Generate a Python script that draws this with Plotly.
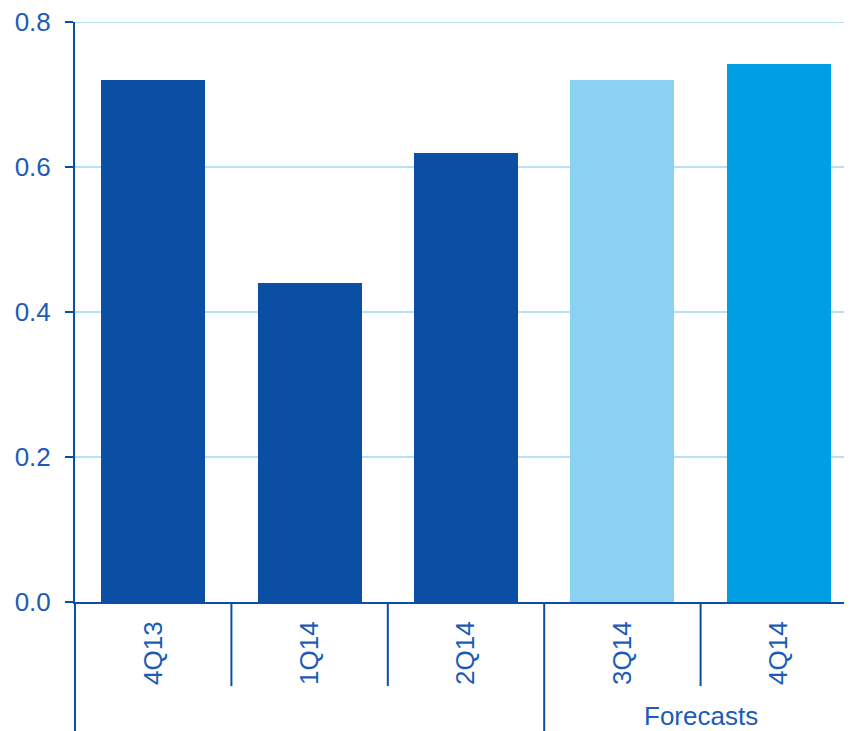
import plotly.graph_objects as go

categories = ["4Q13", "1Q14", "2Q14", "3Q14", "4Q14"]
values = [0.72, 0.44, 0.62, 0.72, 0.742]
bar_colors = ["#0A4FA3", "#0A4FA3", "#0A4FA3", "#8BD2F2", "#009FE3"]
y_ticks = [0.0, 0.2, 0.4, 0.6, 0.8]
y_ticktext = ["0.0", "0.2", "0.4", "0.6", "0.8"]
group_label = "Forecasts"

TEXT = "#1C5CB6"
AXIS = "#0A4FA3"
GRID = "#B5E2F6"
FONT = "Liberation Sans, Arial, sans-serif"
FS = 26

fig = go.Figure()
fig.add_trace(go.Bar(
    x=list(range(len(categories))), y=values,
    marker=dict(color=bar_colors, line=dict(width=0)),
    width=0.665,
))

shapes = []
# top gridline at the upper end of the range (plotly skips it at the edge)
shapes.append(dict(type="line", xref="paper", yref="y", x0=0, x1=1,
                   y0=y_ticks[-1], y1=y_ticks[-1], layer="below",
                   line=dict(color=GRID, width=2)))
for xb in [0.5, 1.5, 3.5]:
    shapes.append(dict(type="line", xref="x", yref="paper", x0=xb, x1=xb,
                       y0=0, y1=-0.145, line=dict(color=AXIS, width=2)))
shapes.append(dict(type="line", xref="x", yref="paper", x0=2.5, x1=2.5,
                   y0=0, y1=-0.24, line=dict(color=AXIS, width=2)))
shapes.append(dict(type="line", xref="paper", yref="paper", x0=0, x1=0,
                   y0=0, y1=-0.24, line=dict(color=AXIS, width=2)))

fig.update_layout(
    width=844, height=723,
    margin=dict(l=67, r=0, t=14, b=129, autoexpand=False),
    paper_bgcolor="white", plot_bgcolor="white",
    showlegend=False,
    font=dict(family=FONT, size=FS, color=TEXT),
    bargap=0,
    shapes=shapes,
    annotations=[dict(text=group_label, xref="x", yref="paper", x=3.5, y=-0.197,
                      showarrow=False, xanchor="center", yanchor="middle",
                      font=dict(family=FONT, size=FS, color=TEXT))],
    xaxis=dict(
        range=[-0.5, 4.468],
        tickmode="array", tickvals=list(range(len(categories))), ticktext=categories,
        tickangle=-90, ticks="", showgrid=False, zeroline=False,
        showline=True, linecolor=AXIS, linewidth=2,
        ticklabelstandoff=7,
        tickfont=dict(family=FONT, size=FS, color=TEXT),
    ),
    yaxis=dict(
        range=[0, 0.8],
        tickmode="array", tickvals=y_ticks, ticktext=y_ticktext,
        ticks="outside", ticklen=8, tickcolor=AXIS, tickwidth=2,
        showline=True, linecolor=AXIS, linewidth=2,
        showgrid=True, gridcolor=GRID, gridwidth=2,
        zeroline=False, ticklabelstandoff=9, ticklabeloverflow="allow",
        tickfont=dict(family=FONT, size=FS, color=TEXT),
    ),
)

fig.write_html("out.html")
